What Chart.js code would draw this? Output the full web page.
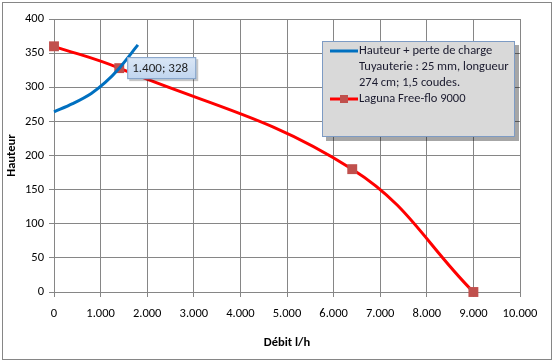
<!DOCTYPE html>
<html>
<head>
<meta charset="utf-8">
<script src="https://cdn.jsdelivr.net/npm/chart.js@4"></script>
<style>
  html, body { margin: 0; padding: 0; background: #fff; }
  #wrap { width: 555px; height: 364px; position: relative; }
</style>
</head>
<body>
<div id="wrap"><canvas id="pumpChart" width="555" height="364"></canvas></div>
<script>
// Courbe de la pompe et perte de charge
const xTicks = [0, 1000, 2000, 3000, 4000, 5000, 6000, 7000, 8000, 9000, 10000];
const yTicks = [0, 50, 100, 150, 200, 250, 300, 350, 400];

const pipeLabel = ['Hauteur + perte de charge', 'Tuyauterie : 25 mm, longueur', '274 cm; 1,5 coudes.'];
const pipeX = [0, 400, 800, 1100, 1400, 1800];
const pipeY = [264, 276, 291, 307, 328, 362];

const pumpLabel = 'Laguna Free-flo 9000';
const pumpX = [0, 1400, 6400, 9000];
const pumpY = [360, 328, 180, 0];

const pointLabel = { x: 1400, y: 328, text: '1.400; 328' };

const FONT = 'Carlito, Calibri, "Open Sans", sans-serif';

function fmt(v) {
    return v.toString().replace(/\B(?=(\d{3})+(?!\d))/g, '.');
}

const frame = {
    id: 'frame',
    beforeDraw(chart) {
        const c = chart.ctx;
        c.save();
        c.fillStyle = '#ffffff';
        c.fillRect(0, 0, chart.width, chart.height);
        c.strokeStyle = '#868686';
        c.lineWidth = 1;
        c.strokeRect(2.5, 2.5, 549, 357);
        c.restore();
    },
    afterDraw(chart) {
        const c = chart.ctx;
        const xs = chart.scales.x, ys = chart.scales.y;

        // data label
        const px = xs.getPixelForValue(pointLabel.x);
        const py = ys.getPixelForValue(pointLabel.y);
        c.save();
        const bx = px + 8, by = py - 11, bw = 69, bh = 22;
        c.fillStyle = 'rgba(0,0,0,0.22)';
        c.fillRect(bx + 2, by + 2, bw, bh);
        const g = c.createLinearGradient(0, by, 0, by + bh);
        g.addColorStop(0, '#dbe7f6');
        g.addColorStop(1, '#c0d5ef');
        c.fillStyle = g;
        c.fillRect(bx, by, bw, bh);
        c.strokeStyle = '#7f9ec6';
        c.strokeRect(bx + 0.5, by + 0.5, bw - 1, bh - 1);
        c.fillStyle = '#1f1f1f';
        c.font = '13px ' + FONT;
        c.textBaseline = 'middle';
        c.fillText(pointLabel.text, bx + 5, by + bh / 2 + 1);
        c.restore();

        // legend box
        c.save();
        const lx = 322, ly = 41, lw = 193, lh = 96;
        c.fillStyle = 'rgba(0,0,0,0.35)';
        c.fillRect(lx + 4, ly + 4, lw, lh);
        c.fillStyle = '#d9d9d9';
        c.fillRect(lx, ly, lw, lh);
        c.strokeStyle = '#7d9bc4';
        c.strokeRect(lx + 0.5, ly + 0.5, lw - 1, lh - 1);
        c.font = '12.5px ' + FONT;
        c.fillStyle = '#1a1a2e';
        c.textBaseline = 'middle';
        pipeLabel.forEach((t, i) => c.fillText(t, 359, 51 + i * 16));
        c.fillText(pumpLabel, 359, 99);
        c.lineWidth = 3;
        c.strokeStyle = '#0070c0';
        c.beginPath(); c.moveTo(330, 51); c.lineTo(358, 51); c.stroke();
        c.strokeStyle = '#ff0000';
        c.beginPath(); c.moveTo(330, 99); c.lineTo(358, 99); c.stroke();
        c.fillStyle = '#c0504d';
        c.fillRect(340, 95, 8, 8);
        c.restore();
    }
};

new Chart(document.getElementById('pumpChart'), {
    type: 'scatter',
    data: {
        datasets: [{
            label: pipeLabel.join(' '),
            data: pipeX.map((x, i) => ({ x: x, y: pipeY[i] })),
            showLine: true,
            borderColor: '#0070c0',
            borderWidth: 3,
            pointRadius: 0,
            cubicInterpolationMode: 'monotone',
            clip: false
        }, {
            label: pumpLabel,
            data: pumpX.map((x, i) => ({ x: x, y: pumpY[i] })),
            showLine: true,
            borderColor: '#ff0000',
            borderWidth: 3,
            tension: 0.4,
            pointStyle: 'rect',
            pointRadius: 7,
            pointBackgroundColor: '#c0504d',
            pointBorderColor: '#c0504d',
            pointBorderWidth: 0,
            clip: false
        }]
    },
    plugins: [frame],
    options: {
        responsive: false,
        animation: false,
        layout: { padding: { top: 19, right: 35, left: 0, bottom: 0 } },
        plugins: { legend: { display: false }, tooltip: { enabled: false } },
        scales: {
            x: {
                type: 'linear',
                min: 0, max: 10000,
                afterBuildTicks: s => { s.ticks = xTicks.map(v => ({ value: v })); },
                afterFit: s => { s.height = 72; },
                grid: { color: '#868686', tickLength: 5, drawTicks: true },
                border: { color: '#868686' },
                ticks: { color: '#000', padding: 9, font: { family: FONT, size: 12.5 }, callback: v => fmt(v) },
                title: { display: true, text: 'Débit l/h', color: '#000', font: { family: FONT, size: 12.5, weight: 'bold' }, padding: { top: 6, bottom: 14 } }
            },
            y: {
                min: 0, max: 400,
                afterBuildTicks: s => { s.ticks = yTicks.map(v => ({ value: v })); },
                afterFit: s => { s.width = 54; },
                grid: { color: '#868686', tickLength: 5, drawTicks: true },
                border: { color: '#868686' },
                ticks: { color: '#000', padding: 5, font: { family: FONT, size: 12.5 } },
                title: { display: true, text: 'Hauteur', color: '#000', font: { family: FONT, size: 12.5, weight: 'bold' }, padding: { top: 4, bottom: 0 } }
            }
        }
    }
});
</script>
</body>
</html>
